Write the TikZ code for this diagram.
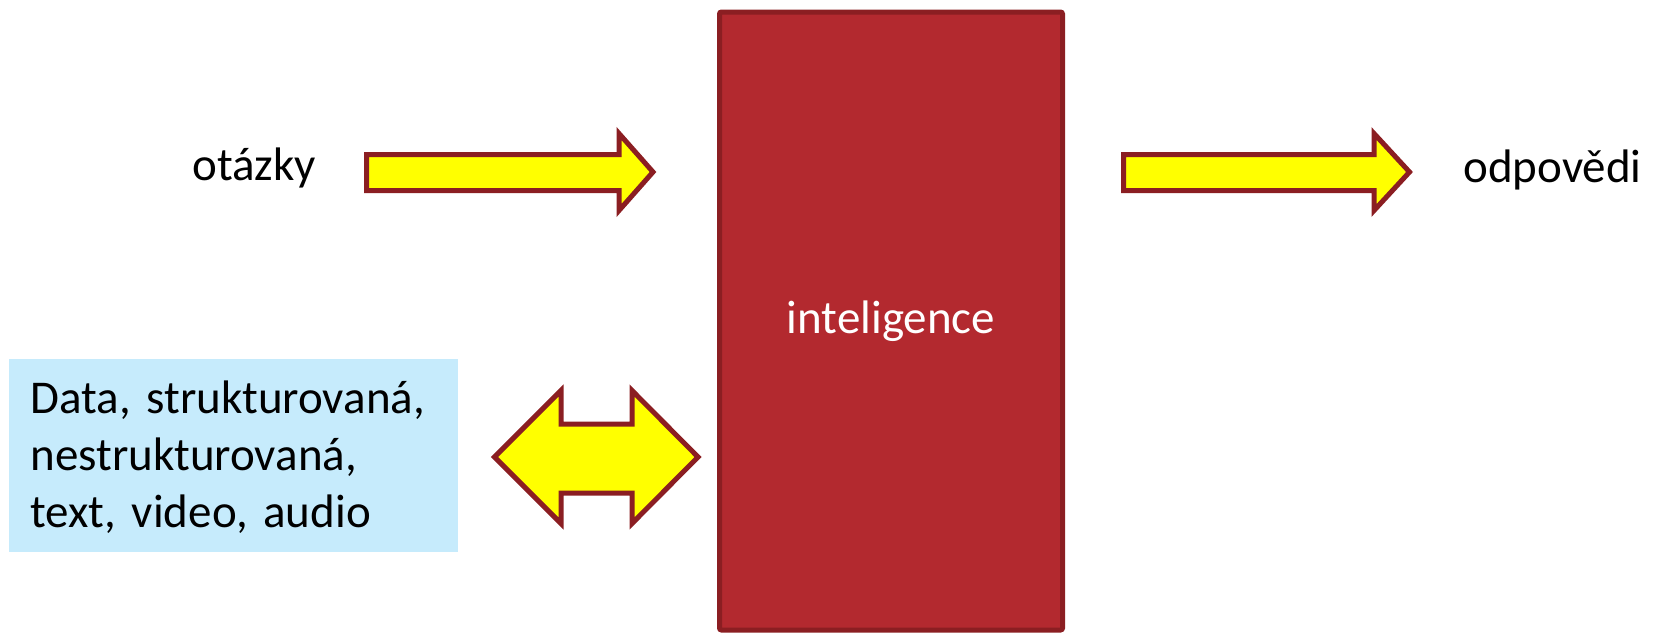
\documentclass[tikz,border=0pt]{standalone}
\usepackage{fontspec}
\setmainfont{Carlito}
\definecolor{outl}{HTML}{8B1E22}
\definecolor{boxred}{HTML}{B3292F}
\definecolor{ayellow}{HTML}{FFFF00}
\definecolor{lblue}{HTML}{C6EBFC}
\begin{document}
\begin{tikzpicture}[x=0.5pt,y=-0.5pt,
  blockarrow/.style={draw=outl,fill=ayellow,line width=2.5pt,line join=miter},
  lbl/.style={font=\fontsize{23.5pt}{28.5pt}\selectfont,inner sep=0pt,anchor=base west}]
\useasboundingbox (0,0) rectangle (1653,632);
% blue data box
\node (databox) [fill=lblue,minimum width=224.5pt,minimum height=96.5pt,inner sep=0pt,anchor=north west] at (9,359) {};
\node (datatext) [lbl,text width=215pt,align=left] at (30,413) {Data, strukturovaná,\\nestrukturovaná,\\text, video, audio};
% intelligence box
\node (intel) [draw=outl,fill=boxred,line width=2.5pt,rounded corners=1pt,minimum width=171.5pt,minimum height=309pt,inner sep=0pt,text=white,font=\fontsize{23.5pt}{28.5pt}\selectfont] at (891,321) {inteligence};
% labels
\node (q) [lbl] at (192,180) {otázky};
\node (a) [lbl] at (1463,182) {odpovědi};
% arrow in
\draw[blockarrow] (366.5,154.5) -- (619,154.5) -- (619,133.5) -- (653,172) -- (619,210.5) -- (619,190.5) -- (366.5,190.5) -- cycle;
% arrow out
\draw[blockarrow] (1123.5,154.5) -- (1374,154.5) -- (1374,133.5) -- (1409.5,172) -- (1374,210.5) -- (1374,190.5) -- (1123.5,190.5) -- cycle;
% double arrow
\draw[blockarrow] (494.5,457) -- (561,390.5) -- (561,424) -- (632,424) -- (632,390.5) -- (698,457) -- (632,523.5) -- (632,493) -- (561,493) -- (561,523.5) -- cycle;
\end{tikzpicture}
\end{document}
